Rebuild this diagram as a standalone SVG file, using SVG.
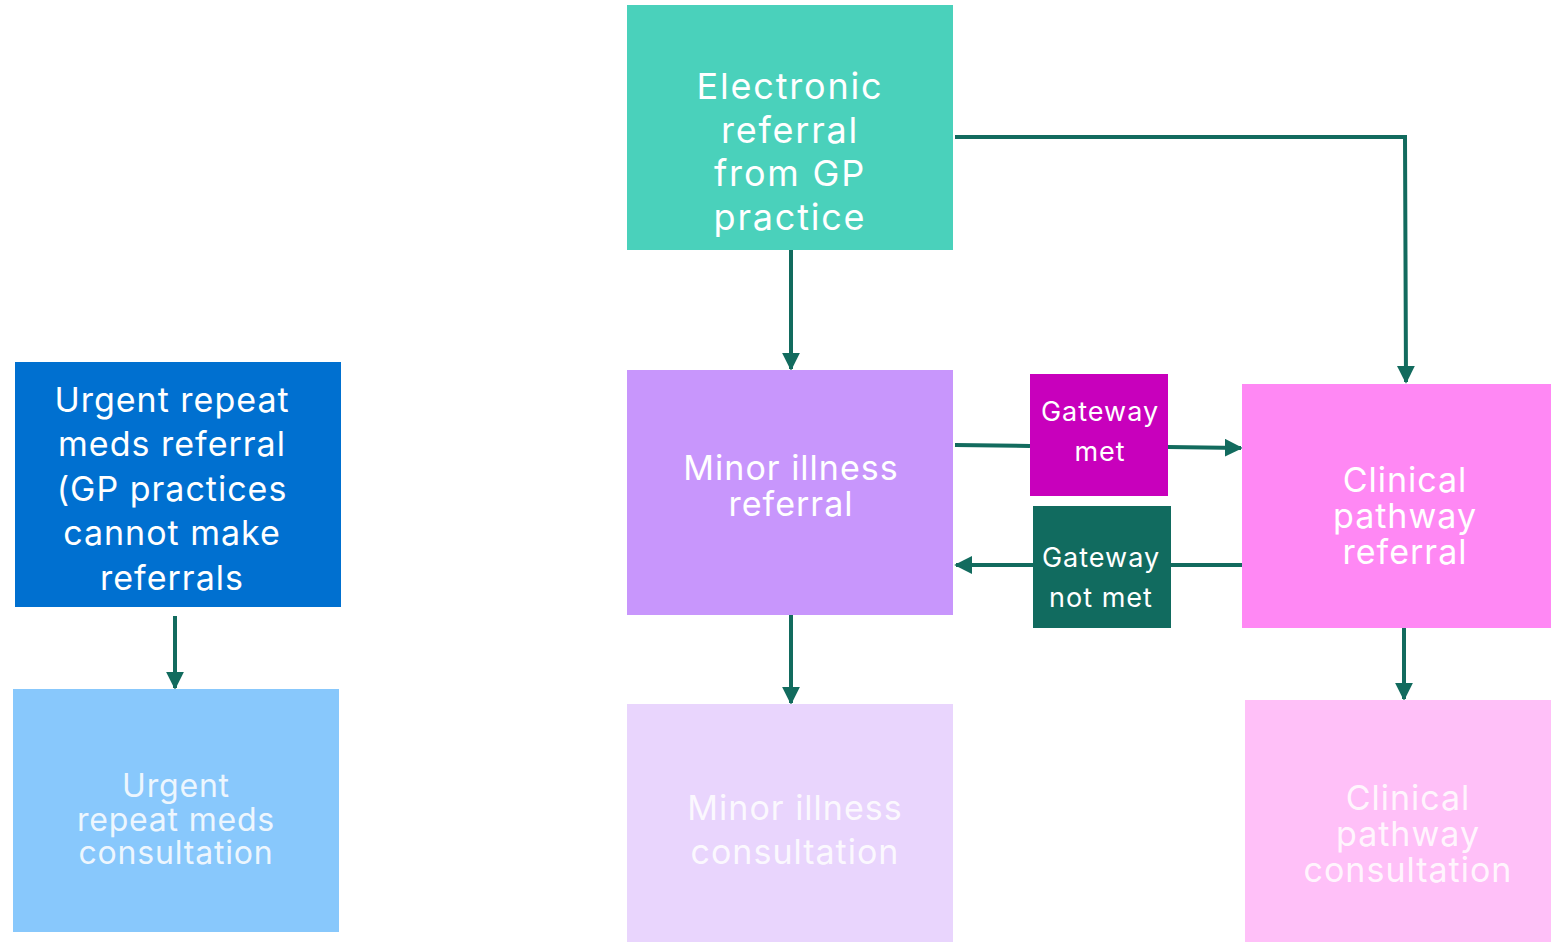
<svg xmlns="http://www.w3.org/2000/svg" width="1551" height="942" viewBox="0 0 1551 942">
<style>
text{font-family:Inter,"Open Sans","Liberation Sans",sans-serif;fill:#fff;text-anchor:middle}
.big{font-size:36px;letter-spacing:1.8px}
.mid{font-size:34px;letter-spacing:1px}
.uc{font-size:32px;letter-spacing:0.8px}
.sm{font-size:27px;letter-spacing:1px}
.faint{fill:#fff;opacity:0.85}
.c{stroke:#126B5E;stroke-width:4;fill:none}
</style>
<defs>
<marker id="ah" viewBox="0 0 10 10" refX="9" refY="5" markerWidth="4.5" markerHeight="4.5" orient="auto" markerUnits="strokeWidth">
<path d="M0,0 L10,5 L0,10 z" fill="#126B5E"/>
</marker>
</defs>
<g id="connectors">
<path class="c" d="M791,250 V369" marker-end="url(#ah)"/>
<path class="c" d="M955,137 H1405 L1406,382" marker-end="url(#ah)"/>
<path class="c" d="M955,445 L1030,446"/>
<path class="c" d="M1168,447 L1241,448" marker-end="url(#ah)"/>
<path class="c" d="M1242,565 H1171"/>
<path class="c" d="M1033,565 H956" marker-end="url(#ah)"/>
<path class="c" d="M791,615 V703" marker-end="url(#ah)"/>
<path class="c" d="M1404,628 V699" marker-end="url(#ah)"/>
<path class="c" d="M175,616 V688" marker-end="url(#ah)"/>
</g>
<g id="electronic">
<rect x="627" y="5" width="326" height="245" fill="#4AD1BB"/>
<text class="big" x="790" y="99">Electronic</text>
<text class="big" x="790" y="143">referral</text>
<text class="big" x="790" y="186">from GP</text>
<text class="big" x="790" y="230">practice</text>
</g>
<g id="minor-referral">
<rect x="627" y="370" width="326" height="245" fill="#C896FC"/>
<text class="mid" x="791" y="480">Minor illness</text>
<text class="mid" x="791" y="516">referral</text>
</g>
<g id="minor-consultation">
<rect x="627" y="704" width="326" height="238" fill="#E9D5FD"/>
<text class="mid faint" x="795" y="820">Minor illness</text>
<text class="mid faint" x="795" y="864">consultation</text>
</g>
<g id="urgent-referral">
<rect x="15" y="362" width="326" height="245" fill="#0070D0"/>
<text class="mid" x="172" y="412">Urgent repeat</text>
<text class="mid" x="172" y="456">meds referral</text>
<text class="mid" x="172" y="501">(GP practices</text>
<text class="mid" x="172" y="545">cannot make</text>
<text class="mid" x="172" y="590">referrals</text>
</g>
<g id="urgent-consultation">
<rect x="13" y="689" width="326" height="243" fill="#88C8FC"/>
<text class="uc faint" x="176" y="797">Urgent</text>
<text class="uc faint" x="176" y="831">repeat meds</text>
<text class="uc faint" x="176" y="864">consultation</text>
</g>
<g id="clinical-referral">
<rect x="1242" y="384" width="309" height="244" fill="#FF88F4"/>
<text class="mid" x="1405" y="492">Clinical</text>
<text class="mid" x="1405" y="528">pathway</text>
<text class="mid" x="1405" y="564">referral</text>
</g>
<g id="clinical-consultation">
<rect x="1245" y="700" width="306" height="242" fill="#FFC0F8"/>
<text class="mid faint" x="1408" y="810">Clinical</text>
<text class="mid faint" x="1408" y="846">pathway</text>
<text class="mid faint" x="1408" y="882">consultation</text>
</g>
<g id="gateway-met">
<rect x="1030" y="374" width="138" height="122" fill="#C800BC"/>
<text class="sm" x="1100" y="421">Gateway</text>
<text class="sm" x="1100" y="461">met</text>
</g>
<g id="gateway-not-met">
<rect x="1033" y="506" width="138" height="122" fill="#116B5F"/>
<text class="sm" x="1101" y="567">Gateway</text>
<text class="sm" x="1101" y="607">not met</text>
</g>
</svg>
